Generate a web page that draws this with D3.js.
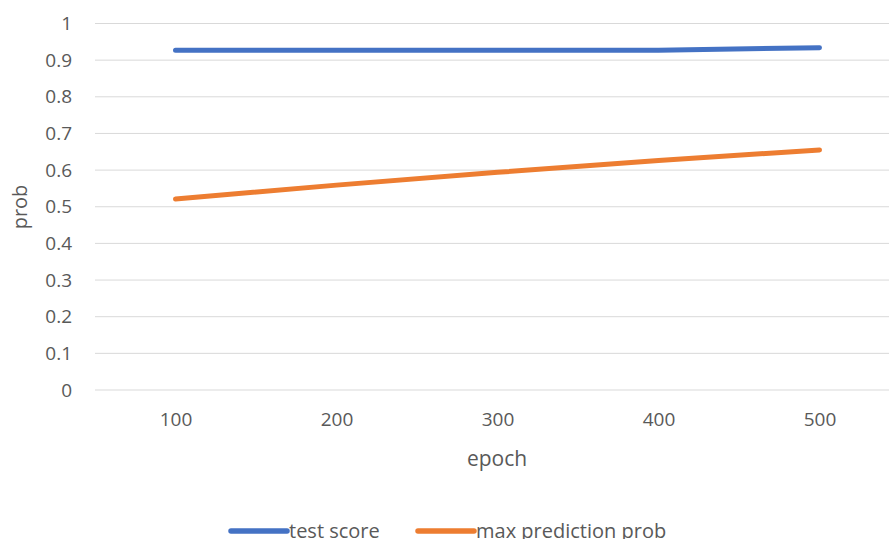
<!DOCTYPE html>
<html>
<head>
<meta charset="utf-8">
<script src="https://cdn.jsdelivr.net/npm/d3@7"></script>
<style>
  html, body { margin: 0; padding: 0; background: #fff; overflow: hidden; }
  svg { display: block; font-family: "Open Sans", "Liberation Sans", sans-serif; }
</style>
</head>
<body>
<svg id="chart" width="889" height="539"></svg>
<script>
// Epochs on the category axis
const epochs = ["100", "200", "300", "400", "500"];
// Series values
const testScore = [0.927, 0.927, 0.927, 0.927, 0.934];
const maxPredictionProb = [0.521, 0.559, 0.594, 0.626, 0.655];
// Y tick labels
const yTicks = [0, 0.1, 0.2, 0.3, 0.4, 0.5, 0.6, 0.7, 0.8, 0.9, 1];

const seriesNames = ["test score", "max prediction prob"];
const seriesColors = ["#4472C4", "#ED7D31"];
const series = [testScore, maxPredictionProb];

const svg = d3.select("#chart");
const plot = { left: 95, right: 900, top: 23.5, bottom: 390 };
const labelFont = "'Open Sans', 'Liberation Sans', sans-serif";

const x = d3.scalePoint().domain(epochs).range([plot.left, plot.right]).padding(0.5);
const y = d3.scaleLinear().domain([0, 1]).range([plot.bottom, plot.top]);

// Horizontal gridlines
svg.append("g")
  .selectAll("line")
  .data(yTicks)
  .join("line")
  .attr("x1", plot.left).attr("x2", plot.right)
  .attr("y1", d => y(d)).attr("y2", d => y(d))
  .attr("stroke", "#d9d9d9").attr("stroke-width", 1);

// Y axis labels
const yAxis = d3.axisLeft(y).tickValues(yTicks).tickSize(0).tickPadding(0)
  .tickFormat(d => d3.format("~g")(d));
svg.append("g")
  .attr("transform", `translate(${72},0)`)
  .call(yAxis)
  .call(g => g.select(".domain").remove())
  .call(g => g.selectAll("text").attr("fill", "#595959").attr("font-size", 19)
    .attr("font-family", labelFont));

// X axis labels
const xAxis = d3.axisBottom(x).tickSize(0).tickPadding(0);
svg.append("g")
  .attr("transform", `translate(0,${412})`)
  .call(xAxis)
  .call(g => g.select(".domain").remove())
  .call(g => g.selectAll("text").attr("fill", "#595959").attr("font-size", 19)
    .attr("font-family", labelFont));

// Axis titles
svg.append("text")
  .attr("x", 497).attr("y", 466)
  .attr("text-anchor", "middle")
  .attr("fill", "#595959").attr("font-size", 21)
  .text("epoch");
svg.append("text")
  .attr("transform", `translate(27,207) rotate(-90)`)
  .attr("text-anchor", "middle")
  .attr("fill", "#595959").attr("font-size", 20)
  .text("prob");

// Lines
const line = d3.line().x((d, i) => x(epochs[i])).y(d => y(d));
svg.append("g")
  .selectAll("path")
  .data(series)
  .join("path")
  .attr("d", d => line(d))
  .attr("fill", "none")
  .attr("stroke", (d, i) => seriesColors[i])
  .attr("stroke-width", 5)
  .attr("stroke-linecap", "round")
  .attr("stroke-linejoin", "round");

// Legend
const legendItems = [{ x: 231, w: 56 }, { x: 418, w: 56 }];
const legend = svg.append("g");
seriesNames.forEach((name, i) => {
  const it = legendItems[i];
  legend.append("line")
    .attr("x1", it.x).attr("x2", it.x + it.w)
    .attr("y1", 531).attr("y2", 531)
    .attr("stroke", seriesColors[i]).attr("stroke-width", 5.5)
    .attr("stroke-linecap", "round");
  legend.append("text")
    .attr("x", it.x + it.w + 2).attr("y", 538)
    .attr("fill", "#595959").attr("font-size", 20)
    .text(name);
});
</script>
</body>
</html>
